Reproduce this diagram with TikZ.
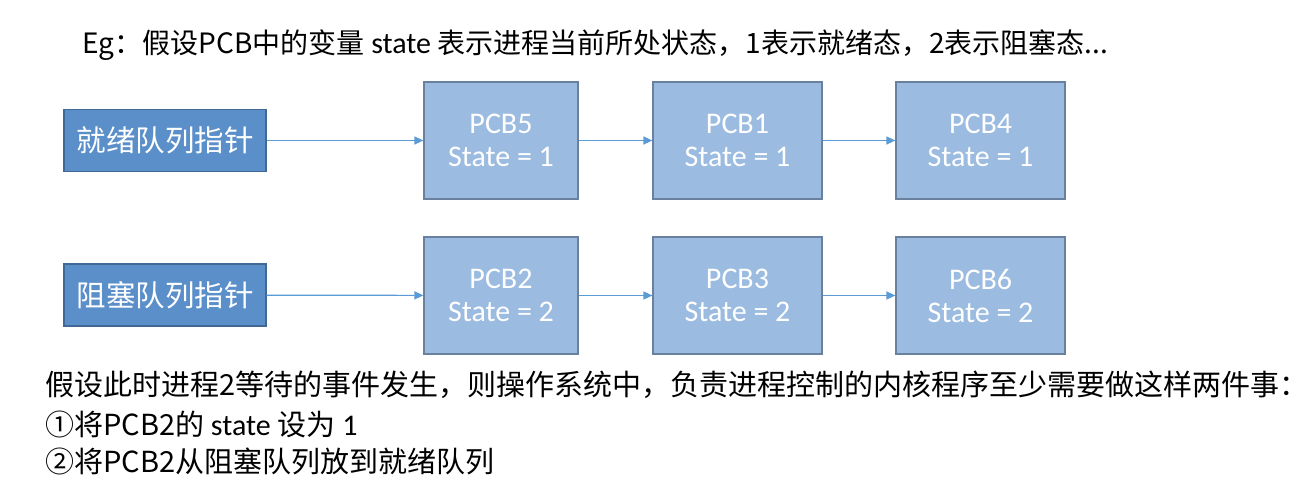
\documentclass[tikz,border=0pt]{standalone}
\usepackage{fontspec}
\setmainfont{Carlito}
\newfontfamily\cjk{Noto Sans CJK SC}
\usetikzlibrary{arrows.meta}
\definecolor{qfill}{RGB}{91,143,201}
\definecolor{qborder}{RGB}{65,105,150}
\definecolor{pfill}{RGB}{155,187,224}
\definecolor{pborder}{RGB}{105,128,158}
\definecolor{arr}{RGB}{91,155,213}
\tikzset{
  qbox/.style={draw=qborder, line width=1.2pt, fill=qfill, minimum width=202pt, minimum height=62pt, inner sep=0pt, text=white, font=\cjk\fontsize{29.5}{32}\selectfont},
  pbox/.style={draw=pborder, line width=1.2pt, fill=pfill, minimum height=117pt, inner sep=0pt, text=white, align=center, font=\fontsize{30}{33}\selectfont},
  link/.style={draw=arr, line width=1.2pt, -{Triangle[length=9pt,width=8pt]}},
  txt/.style={anchor=west, inner sep=0pt, text=black}
}
\begin{document}
\begin{tikzpicture}[x=1pt,y=-1pt]
\useasboundingbox (0,0) rectangle (1312,482);
\node[qbox] (rq) at (165,140.5) {就绪队列指针};
\node[qbox] (bq) at (165,295) {阻塞队列指针};
\node[pbox, minimum width=154pt] (p5) at (501,140.5) {PCB5\\State = 1};
\node[pbox, minimum width=169pt] (p1) at (737.5,140.5) {PCB1\\State = 1};
\node[pbox, minimum width=169pt] (p4) at (980.5,140.5) {PCB4\\State = 1};
\node[pbox, minimum width=154pt] (p2) at (501,295.5) {PCB2\\State = 2};
\node[pbox, minimum width=169pt] (p3) at (737.5,295.5) {PCB3\\State = 2};
\node[pbox, minimum width=169pt] (p6) at (980.5,295.5) {PCB6\\State = 2};
\draw[link] (rq) -- (p5);
\draw[link] (p5) -- (p1);
\draw[link] (p1) -- (p4);
\draw[link] (bq) -- (p2);
\draw[link] (p2) -- (p3);
\draw[link] (p3) -- (p6);
\node[txt, font=\cjk\fontsize{28}{32}\selectfont] (title) at (82,45) {Eg：假设PCB中的变量{\rmfamily\fontsize{30}{32}\selectfont{} state }表示进程当前所处状态，1表示就绪态，2表示阻塞态...};
\node[txt, font=\cjk\fontsize{29}{34}\selectfont] (l1) at (45,385) {假设此时进程2等待的事件发生，则操作系统中，负责进程控制的内核程序至少需要做这样两件事：};
\node[txt, font=\cjk\fontsize{29}{34}\selectfont] (l2) at (45,424) {①将PCB2的{\rmfamily\fontsize{30}{34}\selectfont{} state }设为{\rmfamily\fontsize{30}{34}\selectfont{} 1}};
\node[txt, font=\cjk\fontsize{29}{34}\selectfont] (l3) at (45,461) {②将PCB2从阻塞队列放到就绪队列};
\end{tikzpicture}
\end{document}
